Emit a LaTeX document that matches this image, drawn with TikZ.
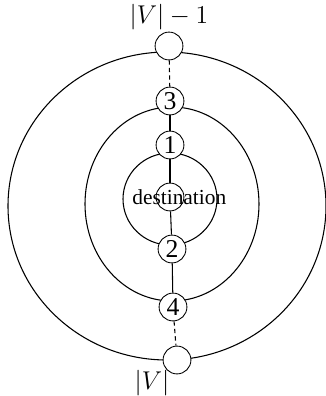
\documentclass[tikz,border=0pt]{standalone}
\usepackage{fontspec}
\setmainfont{Liberation Serif}
\usepackage{tikz}
\usetikzlibrary{positioning}

\begin{document}
\begin{tikzpicture}[
    x=0.467pt, y=-0.467pt,
    vtx/.style={circle, draw, fill=white, inner sep=0pt,
                minimum size=13pt, font=\large},
    ring/.style={draw, line width=0.5pt},
    link/.style={draw, line width=0.5pt},
    dlink/.style={draw, line width=0.5pt, dash pattern=on 2pt off 1.5pt},
    lbl/.style={inner sep=0.5pt, font=\fontsize{11.5}{13}\selectfont},
  ]
    \useasboundingbox (0,0) rectangle (326,396);

    % rings round the destination
    \draw[ring] (167,206) ellipse [x radius=159, y radius=154];
    \draw[ring] (172,204) ellipse [x radius=87, y radius=97];
    \draw[ring] (170,199) ellipse [x radius=47, y radius=46];

    \node[vtx] (vt)  at (169,46)  {};
    \node[vtx] (n3)  at (170,101) {3};
    \node[vtx] (n1)  at (170,145) {1};
    \node[vtx] (dst) at (170,197) {};
    \node[vtx] (n2)  at (172,249) {2};
    \node[vtx] (n4)  at (173,307) {4};
    \node[vtx] (vb)  at (177,360) {};

    \draw[dlink] (vt)--(n3);
    \draw[link] (n3)--(n1);
    \draw[link] (n1)--(dst);
    \draw[link] (dst)--(n2);
    \draw[link] (n2)--(n4);
    \draw[dlink] (n4)--(vb);

    \node[lbl, font=\normalsize, right=-25pt of dst] (dstlbl) {destination};
    \node[lbl, above=0pt of vt] (vtlbl) {$|V|-1$};
    \node[lbl] (vblbl) at (152,383) {$|V|$};
  \end{tikzpicture}
\end{document}
